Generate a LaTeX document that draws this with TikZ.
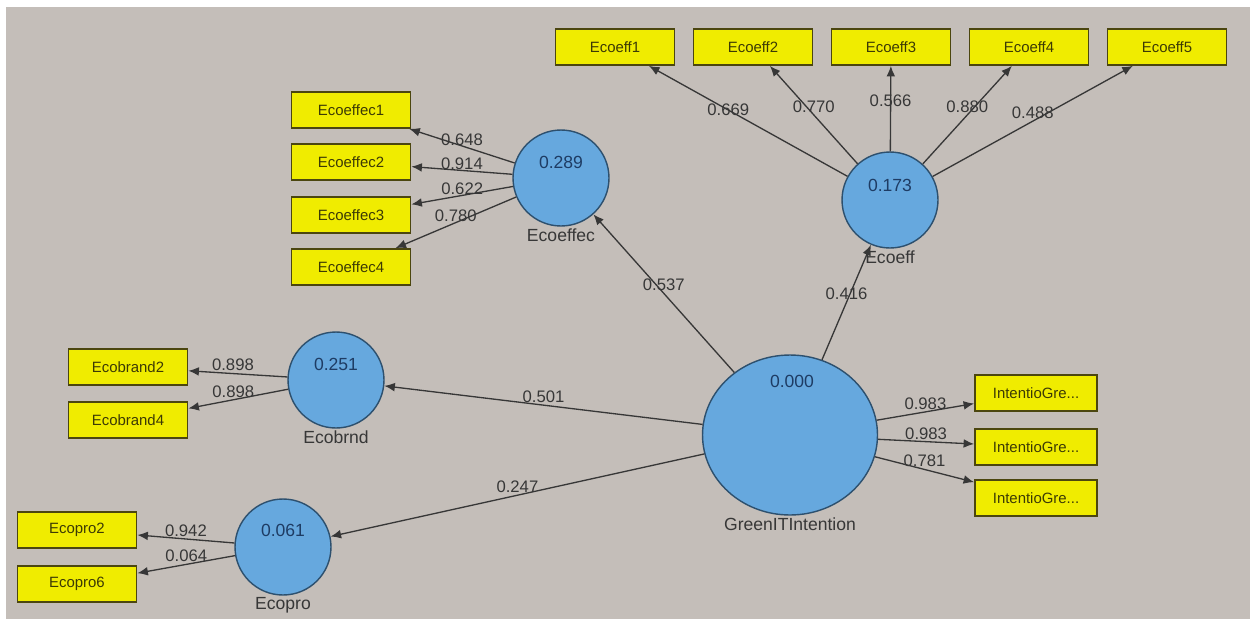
\documentclass[tikz,border=0pt]{standalone}
\usepackage{fontspec}
\setmainfont{Liberation Sans}
\usepackage{xcolor}
\usepackage{tikz}
\usetikzlibrary{shapes.geometric, arrows.meta, positioning}

\definecolor{canvas}{RGB}{196,190,185}
\definecolor{boxfill}{RGB}{240,236,0}
\definecolor{boxline}{RGB}{75,70,15}
\definecolor{boxtext}{RGB}{60,58,5}
\definecolor{cfill}{RGB}{102,168,222}
\definecolor{cline}{RGB}{45,80,110}
\definecolor{valtext}{RGB}{30,60,100}
\definecolor{nametext}{RGB}{55,55,55}
\definecolor{linkgray}{RGB}{55,55,55}

\begin{document}
\begin{tikzpicture}[x=0.02cm,y=-0.02cm,
  indicator/.style={draw=boxline,fill=boxfill,line width=1pt,minimum width=2.38cm,
                    minimum height=0.72cm,inner sep=0pt,text=boxtext,
                    font=\fontsize{8.5}{10}\selectfont},
  construct/.style={circle,draw=cline,fill=cfill,line width=0.8pt,minimum size=1.92cm,
                    inner sep=0pt},
  hub/.style={construct,ellipse,minimum width=3.5cm,minimum height=3.2cm},
  val/.style={font=\fontsize{10}{12}\selectfont,text=valtext},
  cname/.style={font=\fontsize{10}{12}\selectfont,text=nametext,inner sep=1pt},
  link/.style={->,>={Latex[length=6pt,width=5pt]},draw=linkgray,line width=0.75pt},
  wt/.style={font=\fontsize{9.5}{11}\selectfont,text=nametext,inner sep=1pt}
]
  \useasboundingbox (0,0) rectangle (1250,619);
  \fill[white] (0,0) rectangle (1250,619);
  \fill[canvas] (6,7) rectangle (1250,619);

  % constructs
  \node[hub]       (git)   at (790,435) {};
  \node[construct] (effec) at (561,178) {};
  \node[construct] (eff)   at (890,200) {};
  \node[construct] (brnd)  at (336,380) {};
  \node[construct] (pro)   at (283,547) {};

  \node[val] (gitV)   at (792,381) {0.000};
  \node[val] (effecV) at (561,162) {0.289};
  \node[val] (effV)   at (890,185) {0.173};
  \node[val] (brndV)  at (336,364) {0.251};
  \node[val] (proV)   at (283,530) {0.061};

  \node[cname,below=0pt of git]   (gitN)   {GreenITIntention};
  \node[cname,below=0pt of effec] (effecN) {Ecoeffec};
  \node[cname,below=0pt of eff]   (effN)   {Ecoeff};
  \node[cname,below=0pt of brnd]  (brndN)  {Ecobrnd};
  \node[cname,below=0pt of pro]   (proN)   {Ecopro};

  % indicators
  \node[indicator] (eff1) at (615,47)  {Ecoeff1};
  \node[indicator] (eff2) at (753,47)  {Ecoeff2};
  \node[indicator] (eff3) at (891,47)  {Ecoeff3};
  \node[indicator] (eff4) at (1029,47) {Ecoeff4};
  \node[indicator] (eff5) at (1167,47) {Ecoeff5};

  \node[indicator] (effec1) at (351,110) {Ecoeffec1};
  \node[indicator] (effec2) at (351,162) {Ecoeffec2};
  \node[indicator] (effec3) at (351,215) {Ecoeffec3};
  \node[indicator] (effec4) at (351,267) {Ecoeffec4};

  \node[indicator] (brnd2) at (128,367) {Ecobrand2};
  \node[indicator] (brnd4) at (128,420) {Ecobrand4};

  \node[indicator] (pro2) at (77,530) {Ecopro2};
  \node[indicator] (pro6) at (77,584) {Ecopro6};

  \node[indicator,minimum width=2.44cm] (int1) at (1036,393) {IntentioGre...};
  \node[indicator,minimum width=2.44cm] (int2) at (1036,447) {IntentioGre...};
  \node[indicator,minimum width=2.44cm] (int3) at (1036,498) {IntentioGre...};

  % inner model
  \draw[link] (git) -- node[wt,above]{0.537} (effec);
  \draw[link] (git) -- node[wt,above]{0.416} (eff);
  \draw[link] (git) -- node[wt,above]{0.501} (brnd);
  \draw[link] (git) -- node[wt,above]{0.247} (pro);

  % outer model
  \draw[link] (eff) -- node[wt,pos=0.6]{0.669} (eff1);
  \draw[link] (eff) -- node[wt,above]{0.770} (eff2);
  \draw[link] (eff) -- node[wt,above]{0.566} (eff3);
  \draw[link] (eff) -- node[wt,above]{0.880} (eff4);
  \draw[link] (eff) -- node[wt,above]{0.488} (eff5);

  \draw[link] (effec) -- node[wt,above=-1pt]{0.648} (effec1);
  \draw[link] (effec) -- node[wt,above=-1pt]{0.914} (effec2);
  \draw[link] (effec) -- node[wt,above=-1pt]{0.622} (effec3);
  \draw[link] (effec) -- node[wt,above=-1pt]{0.780} (effec4);

  \draw[link] (brnd) -- node[wt,above,pos=0.55]{0.898} (brnd2);
  \draw[link] (brnd) -- node[wt,above,pos=0.55]{0.898} (brnd4);

  \draw[link] (pro) -- node[wt,above]{0.942} (pro2);
  \draw[link] (pro) -- node[wt,above]{0.064} (pro6);

  \draw[link] (git) -- node[wt,above]{0.983} (int1);
  \draw[link] (git) -- node[wt,above]{0.983} (int2);
  \draw[link] (git) -- node[wt,above]{0.781} (int3);
\end{tikzpicture}
\end{document}
